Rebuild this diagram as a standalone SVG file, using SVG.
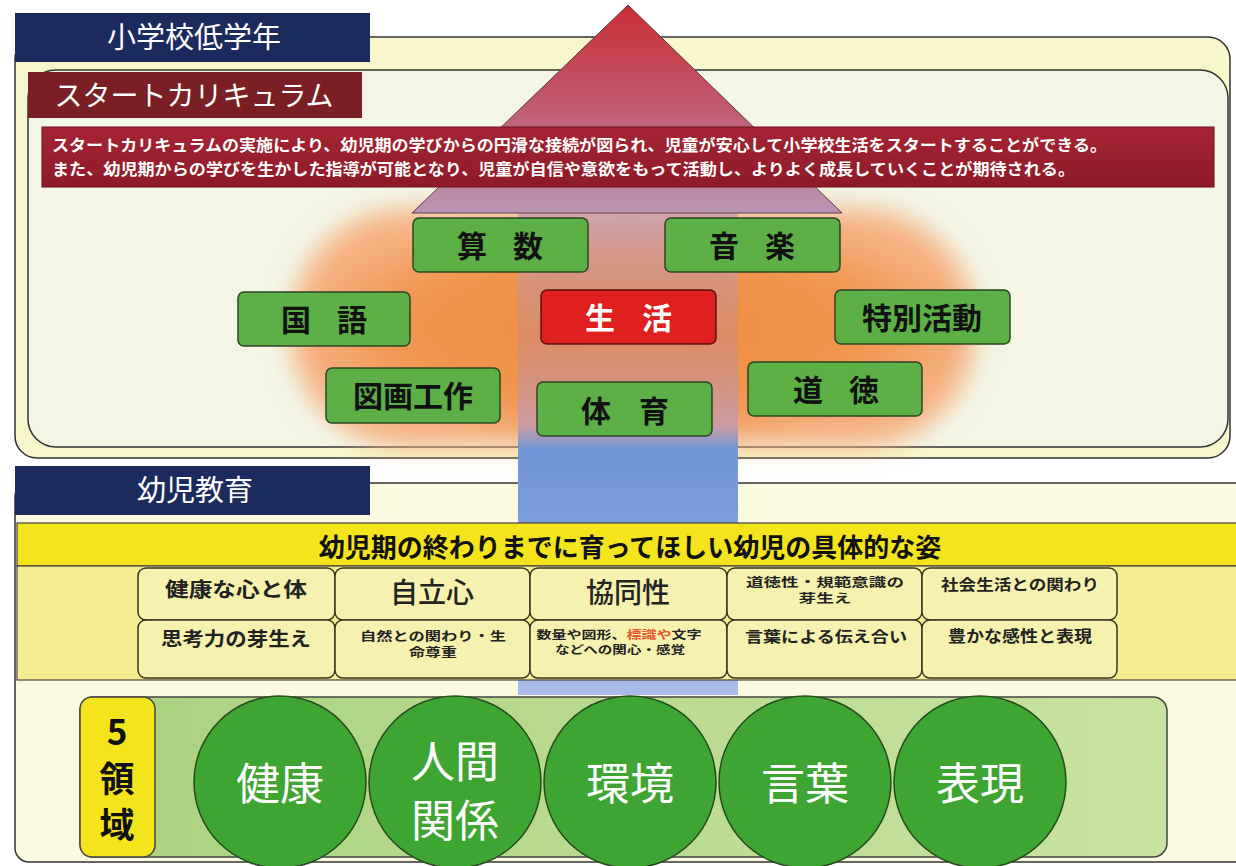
<svg xmlns="http://www.w3.org/2000/svg" width="1236" height="866" viewBox="0 0 1236 866">
<style>
text{font-family:"Noto Sans CJK JP","Noto Sans",sans-serif;}
.hdr{fill:#fff;font-size:29px;text-anchor:middle;}
.subj{fill:#5cb046;stroke:#2c4424;stroke-width:1.5;}
.st{fill:#111;font-size:30px;font-weight:bold;text-anchor:middle;}
.cell{fill:#f6f1ae;stroke:#3a3420;stroke-width:1.5;}
.ct{fill:#222;font-weight:bold;text-anchor:middle;}
.circ{fill:#3ea532;stroke:#244a1c;stroke-width:1.5;}
.cirt{fill:#fff;font-size:44px;text-anchor:middle;}
.desc{fill:#fff;font-size:16px;font-weight:bold;}
.dom{font-size:35px;font-weight:bold;text-anchor:middle;fill:#111;}
</style>
<defs>
<linearGradient id="triG" x1="0" y1="0" x2="0" y2="1">
<stop offset="0" stop-color="#c92d36"/>
<stop offset="0.45" stop-color="#c2566a"/>
<stop offset="1" stop-color="#b896b4"/>
</linearGradient>
<linearGradient id="shaftG" x1="0" y1="213" x2="0" y2="695" gradientUnits="userSpaceOnUse">
<stop offset="0" stop-color="#c8a0b0" stop-opacity="0.85"/>
<stop offset="0.25" stop-color="#d08a78" stop-opacity="0.6"/>
<stop offset="0.44" stop-color="#c59aa8" stop-opacity="0.85"/>
<stop offset="0.49" stop-color="#7195d6"/>
<stop offset="0.62" stop-color="#7b9cdb"/>
<stop offset="1" stop-color="#a9bde8"/>
</linearGradient>
<radialGradient id="cloudG" cx="0.5" cy="0.5" r="0.5">
<stop offset="0" stop-color="#ee8a3e"/>
<stop offset="0.7" stop-color="#f19650"/>
<stop offset="1" stop-color="#f5b080"/>
</radialGradient>
<filter id="blur" x="-20%" y="-30%" width="140%" height="160%"><feGaussianBlur stdDeviation="13"/></filter>
<linearGradient id="descG" x1="0" y1="0" x2="0" y2="1">
<stop offset="0" stop-color="#a52433"/>
<stop offset="1" stop-color="#8e1a27"/>
</linearGradient>
<linearGradient id="bandG" x1="0" y1="0" x2="1" y2="0">
<stop offset="0" stop-color="#a9d27e"/>
<stop offset="1" stop-color="#c9e3a0"/>
</linearGradient>
</defs>

<rect width="1236" height="866" fill="#fff"/>

<!-- upper panels -->
<g id="upper-panel">
<rect x="15" y="37" width="1215" height="421" rx="22" fill="#f8f6cc" stroke="#333" stroke-width="1.5"/>
<rect x="28" y="70" width="1200" height="377" rx="28" fill="#f3f5e5" stroke="#333" stroke-width="1.5"/>
</g>

<!-- lower panel -->
<g id="lower-panel">
<rect x="15" y="483" width="1240" height="379" rx="14" fill="#fbf9df" stroke="#333" stroke-width="1.5"/>
</g>

<!-- orange cloud -->
<rect x="292" y="210" width="682" height="236" rx="115" fill="url(#cloudG)" filter="url(#blur)"/>

<!-- arrow -->
<g id="arrow">
<rect x="518" y="213" width="220" height="482" fill="url(#shaftG)"/>
<polygon points="628,5 412,213 842,213" fill="url(#triG)" stroke="#5a3a40" stroke-width="1"/>
</g>

<!-- headers -->
<g id="header-shougakkou">
<rect x="15" y="13" width="355" height="49" fill="#1c2b5e"/>
<text class="hdr" x="194" y="48">小学校低学年</text>
</g>
<g id="header-start">
<rect x="28" y="72" width="334" height="46" fill="#7a1f24"/>
<text class="hdr" x="194" y="106" style="font-size:28px">スタートカリキュラム</text>
</g>
<g id="description">
<rect x="42" y="127" width="1172" height="60" fill="url(#descG)" stroke="#6a1018" stroke-width="1"/>
<text class="desc"><tspan x="52" y="151" textLength="1055" lengthAdjust="spacingAndGlyphs">スタートカリキュラムの実施により、幼児期の学びからの円滑な接続が図られ、児童が安心して小学校生活をスタートすることができる。</tspan><tspan x="52" y="175" textLength="1023" lengthAdjust="spacingAndGlyphs">また、幼児期からの学びを生かした指導が可能となり、児童が自信や意欲をもって活動し、よりよく成長していくことが期待される。</tspan></text>
</g>

<!-- subjects -->
<g id="sansuu"><rect class="subj" x="413" y="218" width="175" height="54" rx="6"/><text class="st" y="257"><tspan x="472">算</tspan><tspan x="528">数</tspan></text></g>
<g id="ongaku"><rect class="subj" x="665" y="218" width="175" height="54" rx="6"/><text class="st" y="257"><tspan x="724">音</tspan><tspan x="780">楽</tspan></text></g>
<g id="kokugo"><rect class="subj" x="238" y="292" width="172" height="54" rx="6"/><text class="st" y="331"><tspan x="296">国</tspan><tspan x="352">語</tspan></text></g>
<g id="seikatsu"><rect x="541" y="290" width="175" height="54" rx="6" fill="#e0201e" stroke="#5a1010" stroke-width="1.5"/><text class="st" y="329" style="fill:#fff"><tspan x="600">生</tspan><tspan x="657">活</tspan></text></g>
<g id="tokubetsu"><rect class="subj" x="835" y="290" width="175" height="54" rx="6"/><text class="st" x="922" y="329">特別活動</text></g>
<g id="zugakousaku"><rect class="subj" x="326" y="368" width="174" height="55" rx="6"/><text class="st" x="413" y="407">図画工作</text></g>
<g id="taiiku"><rect class="subj" x="537" y="382" width="175" height="54" rx="6"/><text class="st" y="422"><tspan x="596">体</tspan><tspan x="654">育</tspan></text></g>
<g id="doutoku"><rect class="subj" x="748" y="362" width="174" height="54" rx="6"/><text class="st" y="401"><tspan x="808">道</tspan><tspan x="864">徳</tspan></text></g>

<!-- lower header -->
<g id="header-youji">
<rect x="15" y="466" width="355" height="49" fill="#1c2b5e"/>
<text class="hdr" x="195" y="501">幼児教育</text>
</g>

<!-- yellow title & grid -->
<g id="sugata">
<rect x="17" y="523" width="1240" height="43" fill="#f4e41c" stroke="#444" stroke-width="1.2"/>
<text x="630" y="557" font-size="26" font-weight="bold" text-anchor="middle" fill="#111">幼児期の終わりまでに育ってほしい幼児の具体的な姿</text>
<rect x="17" y="566" width="1240" height="114" fill="#f4ed92" stroke="#444" stroke-width="1.2"/>
</g>
<g id="cell-1"><rect class="cell" x="138" y="568" width="197" height="52" rx="8"/><text class="ct" x="236" y="597" font-size="20" textLength="142" lengthAdjust="spacingAndGlyphs">健康な心と体</text></g>
<g id="cell-2"><rect class="cell" x="335" y="568" width="195" height="52" rx="8"/><text class="ct" x="432" y="603" font-size="28" style="font-weight:500">自立心</text></g>
<g id="cell-3"><rect class="cell" x="530" y="568" width="197" height="52" rx="8"/><text class="ct" x="628" y="603" font-size="28" style="font-weight:500">協同性</text></g>
<g id="cell-4"><rect class="cell" x="727" y="568" width="195" height="52" rx="8"/><text class="ct" font-size="12"><tspan x="825" y="587" textLength="158" lengthAdjust="spacingAndGlyphs">道徳性・規範意識の</tspan><tspan x="825" y="603" textLength="53" lengthAdjust="spacingAndGlyphs">芽生え</tspan></text></g>
<g id="cell-5"><rect class="cell" x="922" y="568" width="195" height="52" rx="8"/><text class="ct" x="1020" y="590" font-size="15" textLength="158" lengthAdjust="spacingAndGlyphs">社会生活との関わり</text></g>
<g id="cell-6"><rect class="cell" x="138" y="620" width="197" height="58" rx="8"/><text class="ct" x="236" y="646" font-size="19" textLength="150" lengthAdjust="spacingAndGlyphs">思考力の芽生え</text></g>
<g id="cell-7"><rect class="cell" x="335" y="620" width="195" height="58" rx="8"/><text class="ct" font-size="12"><tspan x="433" y="641" textLength="146" lengthAdjust="spacingAndGlyphs">自然との関わり・生</tspan><tspan x="433" y="657" textLength="48" lengthAdjust="spacingAndGlyphs">命尊重</tspan></text></g>
<g id="cell-8"><rect class="cell" x="530" y="620" width="197" height="58" rx="8"/><text class="ct" font-size="11"><tspan x="619" y="639" textLength="165" lengthAdjust="spacingAndGlyphs">数量や図形、<tspan fill="#e8582a">標識や</tspan>文字</tspan><tspan x="620" y="654" textLength="130" lengthAdjust="spacingAndGlyphs">などへの関心・感覚</tspan></text></g>
<g id="cell-9"><rect class="cell" x="727" y="620" width="195" height="58" rx="8"/><text class="ct" x="826" y="642" font-size="15" textLength="162" lengthAdjust="spacingAndGlyphs">言葉による伝え合い</text></g>
<g id="cell-10"><rect class="cell" x="922" y="620" width="195" height="58" rx="8"/><text class="ct" x="1020" y="642" font-size="16" textLength="144" lengthAdjust="spacingAndGlyphs">豊かな感性と表現</text></g>

<!-- 5 domains -->
<g id="band">
<rect x="80" y="697" width="1087" height="160" rx="14" fill="url(#bandG)" stroke="#444" stroke-width="1.5"/>
</g>
<g id="label-5ryouiki">
<rect x="80" y="697" width="75" height="160" rx="12" fill="#f4e41c" stroke="#444" stroke-width="1.5"/>
<text class="dom"><tspan x="117" y="745">5</tspan><tspan x="117" y="792">領</tspan><tspan x="117" y="838">域</tspan></text>
</g>
<g id="kenkou"><circle class="circ" cx="280" cy="782" r="86"/><text class="cirt" x="280" y="800">健康</text></g>
<g id="ningenkankei"><circle class="circ" cx="455" cy="782" r="86"/><text class="cirt"><tspan x="455" y="778">人間</tspan><tspan x="455" y="837">関係</tspan></text></g>
<g id="kankyou"><circle class="circ" cx="630" cy="782" r="86"/><text class="cirt" x="630" y="800">環境</text></g>
<g id="kotoba"><circle class="circ" cx="805" cy="782" r="86"/><text class="cirt" x="805" y="800">言葉</text></g>
<g id="hyougen"><circle class="circ" cx="980" cy="782" r="86"/><text class="cirt" x="980" y="800">表現</text></g>
</svg>
